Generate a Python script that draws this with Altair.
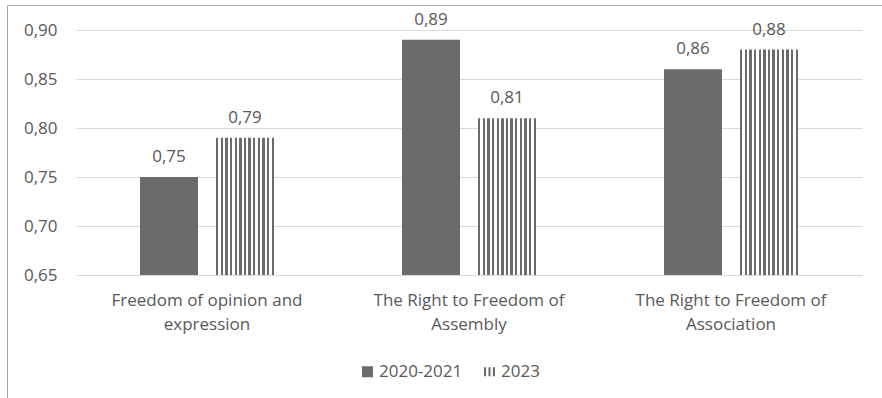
import altair as alt
import pandas as pd

# Indicator scores by category and survey period
categories = [
    "Freedom of opinion and expression",
    "The Right to Freedom of Assembly",
    "The Right to Freedom of Association",
]
category_lines = [
    ["Freedom of opinion and", "expression"],
    ["The Right to Freedom of", "Assembly"],
    ["The Right to Freedom of", "Association"],
]
series = ["2020-2021", "2023"]
values_2020_2021 = [0.75, 0.89, 0.86]
values_2023 = [0.79, 0.81, 0.88]
y_ticks = [0.65, 0.70, 0.75, 0.80, 0.85, 0.90]

TEXT = "#595959"
BAR = "#6b6b6b"
GRID = "#d9d9d9"
FONT = "Open Sans"
FS = 17

df = pd.DataFrame({
    "category": categories * 2,
    "series": [s for s in series for _ in categories],
    "value": values_2020_2021 + values_2023,
})

# Two-line axis labels
label_expr = " : ".join(
    f"datum.value == '{c}' ? {lines!r}" for c, lines in zip(categories, category_lines)
) + " : datum.label"

# Vertical stripe fill built from hard gradient stops
n_lines = 13
dark = 0.5
period = 1.0 / (n_lines - 1 + dark)
stops = []
for i in range(n_lines):
    a = i * period
    b = min(a + dark * period, 1.0)
    stops += [
        alt.GradientStop(offset=a, color=BAR),
        alt.GradientStop(offset=b, color=BAR),
    ]
    if i < n_lines - 1:
        stops += [
            alt.GradientStop(offset=b, color="#ffffff"),
            alt.GradientStop(offset=a + period, color="#ffffff"),
        ]
stripes = alt.LinearGradient(gradient="linear", x1=0, y1=0, x2=1, y2=0, stops=stops)

x_enc = alt.X(
    "category:N",
    sort=categories,
    scale=alt.Scale(paddingInner=0, paddingOuter=0),
    axis=alt.Axis(
        title=None, labelAngle=0, ticks=False, domain=False,
        labelExpr=label_expr, labelFontSize=FS, labelColor=TEXT,
        labelPadding=17, labelLineHeight=24, labelBaseline="top",
        labelLimit=400,
    ),
)
xo_enc = alt.XOffset(
    "series:N", sort=series,
    scale=alt.Scale(domain=series, paddingInner=0.237, paddingOuter=0.842),
)
y_enc = alt.Y(
    "value:Q",
    scale=alt.Scale(domain=[0.65, 0.90], nice=False, zero=False),
    axis=alt.Axis(
        title=None, values=y_ticks, ticks=False, domain=False,
        labelExpr="replace(format(datum.value, '.2f'), '.', ',')",
        labelFontSize=FS, labelColor=TEXT, labelPadding=19,
        gridColor=GRID, gridWidth=1,
    ),
)

base = alt.Chart(df).encode(x=x_enc, xOffset=xo_enc, y=y_enc)

solid = base.mark_bar(fill=BAR).encode(y2=alt.datum(0.65)).transform_filter(
    alt.datum.series == series[0]
)
striped = base.mark_bar(fill=stripes).encode(y2=alt.datum(0.65)).transform_filter(
    alt.datum.series == series[1]
)

labels = base.mark_text(
    fontSize=FS, color=TEXT, baseline="alphabetic", dy=-15
).transform_calculate(
    txt="replace(format(datum.value, '.2f'), '.', ',')"
).encode(text="txt:N")

stripe_symbol = "M-1,-0.8H-0.62V0.8H-1Z M-0.19,-0.8H0.19V0.8H-0.19Z M0.62,-0.8H1V0.8H0.62Z"
legend_opts = dict(
    title=None, orient="none", direction="horizontal",
    legendX=283, legendY=333,
    labelFontSize=FS, labelColor=TEXT, labelOffset=3,
    symbolSize=121, columnPadding=18, symbolStrokeWidth=0,
)
legend_layer = alt.Chart(df).mark_point(filled=True, size=121, opacity=1).encode(
    color=alt.Color("series:N", scale=alt.Scale(domain=series, range=[BAR, BAR]),
                    legend=alt.Legend(**legend_opts)),
    shape=alt.Shape("series:N", scale=alt.Scale(domain=series, range=["square", stripe_symbol]),
                    legend=alt.Legend(**legend_opts)),
).transform_filter("false")

frame = alt.Chart(pd.DataFrame({"k": [0]})).mark_rect(
    fillOpacity=0, stroke="#a6a6a6", strokeWidth=1
).encode(
    x=alt.value(-68.5), x2=alt.value(830), y=alt.value(-24.5), y2=alt.value(400)
)

chart = alt.layer(frame, solid, striped, labels, legend_layer).properties(
    width=786, height=245,
    autosize=alt.AutoSizeParams(type="none"),
    padding={"left": 76, "top": 30, "right": 20, "bottom": 123},
).configure(font=FONT).configure_view(stroke=None)

chart.save("out.html", embed_options={"renderer": "svg", "actions": False})
